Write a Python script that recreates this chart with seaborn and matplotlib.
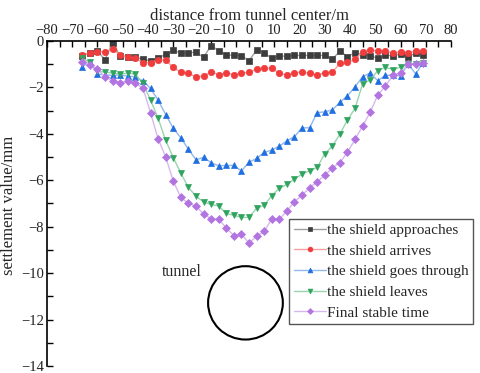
import matplotlib
matplotlib.use('agg')
import matplotlib.pyplot as plt
from matplotlib.patches import Ellipse
from matplotlib.ticker import MultipleLocator
import seaborn as sns

distance = [-66, -63, -60, -57, -54, -51, -48, -45, -42, -39, -36, -33, -30, -27, -24, -21,
            -18, -15, -12, -9, -6, -3, 0, 3, 6, 9, 12, 15, 18, 21, 24, 27, 30, 33, 36, 39,
            42, 45, 48, 51, 54, 57, 60, 63, 66, 69]

approaches = [-0.63, -0.53, -0.45, -0.80, -0.07, -0.65, -0.67, -0.70, -0.78, -0.85, -0.75, -0.56,
              -0.39, -0.53, -0.50, -0.49, -0.70, -0.20, -0.42, -0.60, -0.62, -0.63, -0.85, -0.39,
              -0.50, -0.75, -0.65, -0.65, -0.62, -0.62, -0.62, -0.62, -0.62, -0.79, -0.43, -0.67,
              -0.50, -0.59, -0.63, -0.75, -0.62, -0.63, -0.56, -0.67, -0.53, -0.60]

arrives = [-0.60, -0.53, -0.46, -0.46, -0.36, -0.60, -0.70, -0.75, -0.93, -0.93, -0.82, -0.82,
           -1.14, -1.35, -1.39, -1.54, -1.52, -1.32, -1.45, -1.38, -1.45, -1.38, -1.35, -1.21,
           -1.18, -1.18, -1.39, -1.47, -1.36, -1.35, -1.39, -1.47, -1.36, -1.35, -0.96, -0.92,
           -0.79, -0.46, -0.39, -0.43, -0.42, -0.53, -0.46, -0.50, -0.43, -0.43]

goes_through = [-1.11, -0.89, -1.42, -1.47, -1.47, -1.47, -1.51, -1.54, -1.72, -2.04, -2.55, -3.17,
                -3.76, -4.17, -4.66, -5.12, -5.01, -5.24, -5.38, -5.36, -5.36, -5.60, -5.22, -5.06,
                -4.80, -4.70, -4.53, -4.30, -4.12, -3.74, -3.74, -3.09, -3.05, -2.97, -2.64, -2.36,
                -1.97, -1.54, -1.38, -1.71, -1.48, -1.47, -1.50, -0.99, -1.42, -0.93]

leaves = [-0.75, -0.92, -1.30, -1.34, -1.38, -1.42, -1.39, -1.42, -1.83, -2.54, -3.33, -4.28,
          -5.02, -5.69, -6.31, -6.68, -6.93, -7.04, -7.11, -7.43, -7.51, -7.60, -7.60, -7.20,
          -7.08, -6.66, -6.35, -6.18, -5.94, -5.74, -5.59, -5.44, -4.86, -4.53, -4.01, -3.40,
          -2.90, -1.84, -1.68, -1.28, -1.13, -1.23, -1.13, -1.00, -0.97, -0.96]

final_stable = [-0.89, -1.02, -1.22, -1.54, -1.71, -1.80, -1.71, -1.83, -2.02, -3.09, -4.21, -5.00,
                -6.03, -6.74, -7.00, -7.11, -7.45, -7.66, -7.67, -8.06, -8.38, -8.32, -8.71, -8.41,
                -8.20, -7.67, -7.68, -7.32, -6.93, -6.64, -6.33, -6.06, -5.79, -5.47, -5.24, -4.79,
                -4.24, -3.66, -3.07, -2.33, -1.94, -1.47, -1.37, -1.01, -1.01, -0.96]

labels = ["the shield approaches", "the shield arrives", "the shield goes through",
          "the shield leaves", "Final stable time"]

sns.set_style('ticks')
plt.rcParams['font.family'] = ['Liberation Serif', 'DejaVu Serif']

fig = plt.figure(figsize=(4.8, 3.73), dpi=100)
ax = fig.add_axes([47/480, 7/373, 404/480, 325/373])

# (values, marker, marker colour, line colour)
styles = [
    (approaches, 's', '#3d3d3d', '#a0a0a0'),
    (arrives, 'o', '#f03c3c', '#f7a0a0'),
    (goes_through, '^', '#1f6fe0', '#92b8ee'),
    (leaves, 'v', '#2ea45f', '#9bd3b0'),
    (final_stable, 'D', '#b274e0', '#d7b8ee'),
]

for lab, (vals, mk, mc, lc) in zip(labels, styles):
    sns.lineplot(x=distance, y=vals, ax=ax, label=lab, color=lc, linewidth=1,
                 marker=mk, markersize=4.6 if mk != 'D' else 4.0,
                 markerfacecolor=mc, markeredgecolor=mc, markeredgewidth=0.5)

ax.set_xlim(-80, 80)
ax.set_ylim(-14, 0)
ax.xaxis.set_major_locator(MultipleLocator(10))
ax.xaxis.set_minor_locator(MultipleLocator(5))
ax.yaxis.set_major_locator(MultipleLocator(2))
ax.yaxis.set_minor_locator(MultipleLocator(1))

ax.xaxis.tick_top()
ax.xaxis.set_label_position('top')
ax.tick_params(axis='both', which='both', direction='in', length=4, width=1,
               labelsize=10.5, color='black', labelcolor='#222222')
ax.tick_params(axis='x', pad=3)
ax.tick_params(axis='y', pad=2)

for side in ['right', 'bottom']:
    ax.spines[side].set_visible(False)
for side in ['left', 'top']:
    ax.spines[side].set_linewidth(1.2)
    ax.spines[side].set_color('black')

ax.set_xlabel("distance from tunnel center/m", fontsize=12, labelpad=3)
ax.set_ylabel("settlement value/mm", fontsize=12, labelpad=2)
ax.yaxis.set_label_coords(-0.075, 0.495)

# tunnel outline
ax.add_patch(Ellipse((-1.4, -11.28), 29.6, 3.16, fill=False, edgecolor='black', linewidth=1.5))
ax.text(-34.5, -9.95, "tunnel", fontsize=11.5, ha='left', va='center')

leg = ax.legend(loc='upper left', bbox_to_anchor=(289/480, 1 - 219/373),
                bbox_transform=fig.transFigure, borderaxespad=0, frameon=True,
                fancybox=False, edgecolor='#555555', framealpha=1, fontsize=11,
                handlelength=2.1, handletextpad=0.1, labelspacing=0.45,
                markerscale=0.75, borderpad=0.3)
leg.get_frame().set_linewidth(1)

fig.savefig("out.png", dpi=100)
plt.close(fig)
